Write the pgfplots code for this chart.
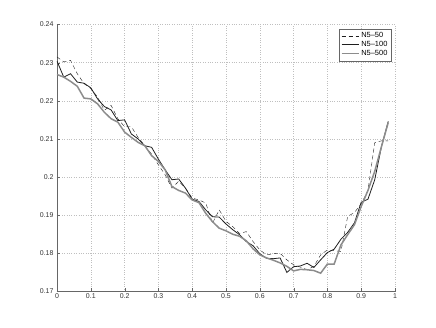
\documentclass[border=0pt]{standalone}
\usepackage{fontspec}
\setmainfont{Liberation Sans}
\usepackage{pgfplots}
\pgfplotsset{compat=1.18}
\definecolor{axgray}{HTML}{666666}
\definecolor{lgray}{HTML}{8C8C8C}
\definecolor{dk}{HTML}{1E1E1E}

\pgfplotstableread{
x n50 n100 n500
0.00 0.2315 0.2304 0.2269
0.02 0.2302 0.2262 0.2262
0.04 0.2306 0.2271 0.2251
0.06 0.2271 0.2249 0.2238
0.08 0.2245 0.2246 0.2207
0.10 0.2232 0.2234 0.2205
0.12 0.2210 0.2205 0.2192
0.14 0.2175 0.2185 0.2170
0.16 0.2188 0.2176 0.2153
0.18 0.2153 0.2148 0.2144
0.20 0.2132 0.2150 0.2118
0.22 0.2132 0.2113 0.2104
0.24 0.2104 0.2100 0.2091
0.26 0.2082 0.2082 0.2082
0.28 0.2060 0.2078 0.2056
0.30 0.2032 0.2047 0.2041
0.32 0.2006 0.2019 0.2019
0.34 0.1971 0.1993 0.1975
0.36 0.1989 0.1995 0.1965
0.38 0.1971 0.1971 0.1958
0.40 0.1945 0.1942 0.1940
0.42 0.1940 0.1936 0.1933
0.44 0.1932 0.1914 0.1905
0.46 0.1879 0.1896 0.1883
0.48 0.1914 0.1895 0.1866
0.50 0.1884 0.1877 0.1859
0.52 0.1870 0.1862 0.1850
0.54 0.1852 0.1849 0.1845
0.56 0.1857 0.1831 0.1833
0.58 0.1831 0.1820 0.1812
0.60 0.1809 0.1799 0.1796
0.62 0.1796 0.1787 0.1788
0.64 0.1799 0.1786 0.1782
0.66 0.1800 0.1788 0.1775
0.68 0.1783 0.1750 0.1766
0.70 0.1770 0.1765 0.1754
0.72 0.1764 0.1767 0.1758
0.74 0.1757 0.1774 0.1757
0.76 0.1766 0.1763 0.1755
0.78 0.1796 0.1783 0.1748
0.80 0.1809 0.1802 0.1772
0.82 0.1807 0.1811 0.1772
0.84 0.1805 0.1837 0.1822
0.86 0.1897 0.1855 0.1849
0.88 0.1907 0.1880 0.1875
0.90 0.1930 0.1934 0.1923
0.92 0.1965 0.1942 0.1965
0.94 0.2090 0.1993 0.2015
0.96 0.2095 0.2080 0.2080
0.98 0.2095 0.2146 0.2143
}\curves

\begin{document}
\begin{tikzpicture}
\begin{axis}[
    scale only axis,
    width=338bp,
    height=267bp,
    xmin=0, xmax=1,
    ymin=0.17, ymax=0.24,
    xtick={0,0.1,...,1},
    ytick={0.17,0.18,...,0.24},
    xticklabels={0,0.1,0.2,0.3,0.4,0.5,0.6,0.7,0.8,0.9,1},
    yticklabels={0.17,0.18,0.19,0.2,0.21,0.22,0.23,0.24},
    axis lines=left,
    axis line style={axgray,-},
    tick style={axgray},
    tick align=inside,
    major tick length=3bp,
    ticklabel style={font=\fontsize{7}{8}\selectfont, text=black!80},
    xticklabel style={yshift=1bp},
    grid=major,
    grid style={dotted, gray!50, line width=0.5bp},
    legend style={at={(rel axis cs:0.99,0.985)}, anchor=north east,
        draw=axgray, font=\fontsize{7.5}{9}\selectfont, inner sep=2bp,
        row sep=-2bp, legend cell align=left},
]
\addplot[dk, thin, dash pattern=on 4bp off 3bp] table[x=x,y=n50] {\curves};
\addlegendentry{N5--50}
\addplot[dk, line width=0.8bp] table[x=x,y=n100] {\curves};
\addlegendentry{N5--100}
\addplot[lgray, line width=1.5bp] table[x=x,y=n500] {\curves};
\addlegendentry{N5--500}
\end{axis}
\path (current axis.south west) ++(-57bp,-36bp) (current axis.north east) ++(41bp,24.5bp);
\end{tikzpicture}
\end{document}
